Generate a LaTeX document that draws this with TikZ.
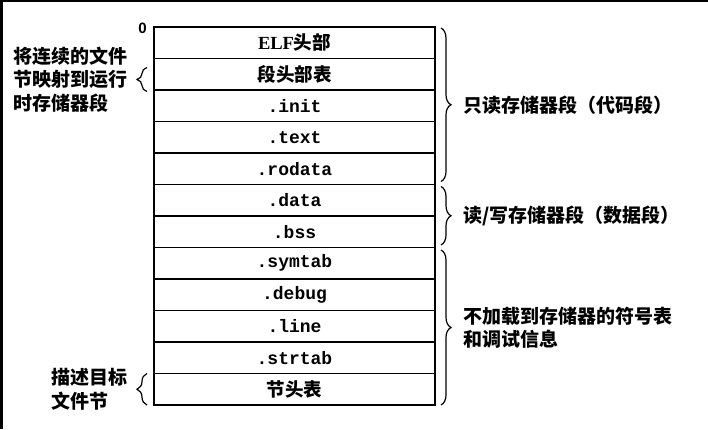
\documentclass[tikz,border=0pt]{standalone}
\usepackage{fontspec}
\setmainfont{Liberation Serif}
\setsansfont{Liberation Sans}
\setmonofont{Liberation Mono}
\newfontfamily\cjk{Noto Sans CJK SC}
\usetikzlibrary{positioning,calc,decorations.pathreplacing}

\begin{document}
\begin{tikzpicture}[
  x=1pt, y=-1pt,
  sect/.style={draw, line width=1.4pt, outer sep=0pt, inner sep=0pt, minimum width=281pt, minimum height=31.5pt, font=\fontsize{18}{20}\selectfont\ttfamily\bfseries},
  cjksect/.style={sect, font=\fontsize{18.5}{20}\selectfont\cjk\bfseries},
  brc/.style={decorate, decoration={brace, amplitude=10pt}, line width=1.2pt},
  note/.style={font=\fontsize{19}{23.5}\selectfont\cjk\bfseries, align=left, inner sep=0pt},
]
  \useasboundingbox (0,0) rectangle (708,429);
  % Frame
  \fill (0,0) rectangle (2.5,429);
  \fill (0,0) rectangle (708,1.8);

  % Sections of the file
  \node[cjksect] (elf) at (294.5,42.75) {{\rmfamily ELF}头部};
  \node[cjksect, below=0pt of elf] (phdr) {段头部表};
  \node[sect, below=0pt of phdr] (init) {.init};
  \node[sect, below=0pt of init] (text) {.text};
  \node[sect, below=0pt of text] (rodata) {.rodata};
  \node[sect, below=0pt of rodata] (data) {.data};
  \node[sect, below=0pt of data] (bss) {.bss};
  \node[sect, below=0pt of bss] (symtab) {.symtab};
  \node[sect, below=0pt of symtab] (debug) {.debug};
  \node[sect, below=0pt of debug] (line) {.line};
  \node[sect, below=0pt of line] (strtab) {.strtab};
  \node[cjksect, below=0pt of strtab] (shdr) {节头表};

  % Offset
  \node[anchor=east, inner sep=0pt, font=\fontsize{15}{15}\selectfont\sffamily\bfseries] (zero) at ($(elf.north west)+(-7,1)$) {0};

  % Right braces
  \draw[brc] ($(elf.north east)+(6,1)$) -- ($(rodata.south east)+(6,-3)$)
    node[midway, right=22pt, note] (ro) {只读存储器段（代码段）};
  \draw[brc] ($(data.north east)+(6,2)$) -- ($(bss.south east)+(6,-2.5)$)
    node[midway, right=22pt, note] (rw) {读/写存储器段（数据段）};
  \draw[brc] ($(symtab.north east)+(6,2.5)$) -- ($(shdr.south east)+(6,0)$)
    node[midway, right=22pt, note] (noload) {不加载到存储器的符号表\\和调试信息};

  % Left braces
  \draw[brc] ($(phdr.south west)+(-7,1.5)$) -- ($(phdr.north west)+(-7,9)$)
    node[midway, left=19pt, note] (map) {将连续的文件\\节映射到运行\\时存储器段};
  \draw[brc] ($(shdr.south west)+(-7,0)$) -- ($(shdr.north west)+(-7,0)$)
    node[midway, left=19pt, note] (desc) {描述目标\\文件节};
\end{tikzpicture}
\end{document}
